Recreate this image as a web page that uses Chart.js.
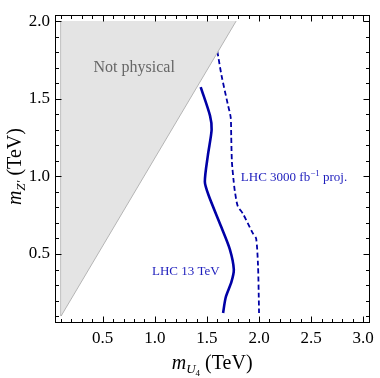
<!DOCTYPE html>
<html><head><meta charset="utf-8">
<script src="https://cdn.jsdelivr.net/npm/chart.js@4"></script>
<style>html,body{margin:0;padding:0;background:#fff}canvas{display:block}</style>
</head><body>
<canvas id="c" width="380" height="378"></canvas>
<script>
// LHC 13 TeV exclusion (solid)
const lhc13_x = [1.44, 1.53, 1.545, 1.51, 1.48, 1.515, 1.64, 1.72, 1.758, 1.735, 1.68, 1.655];
const lhc13_y = [1.575, 1.39, 1.30, 1.14, 0.965, 0.88, 0.67, 0.53, 0.40, 0.32, 0.22, 0.12];
// LHC 3000 fb^-1 projection (dashed)
const hl_x = [1.60, 1.64, 1.70, 1.728, 1.733, 1.74, 1.757, 1.768, 1.795, 1.845, 1.94, 1.972, 1.99, 1.997, 2.0];
const hl_y = [1.805, 1.65, 1.465, 1.38, 1.26, 1.09, 0.966, 0.904, 0.81, 0.76, 0.634, 0.60, 0.43, 0.24, 0.12];
// Not physical region boundary
const unphys_x = [0.1, 1.78];
const unphys_y = [0.1, 2.0];
const unphys_edge_x = [0.1, 0.1];
const unphys_edge_y = [0.1, 2.0];
// tick labels
const xTickLabels = ['0.5', '1.0', '1.5', '2.0', '2.5', '3.0'];
const yTickLabels = ['0.5', '1.0', '1.5', '2.0'];
// text labels
const labelTexts = ['Not physical', 'LHC 13 TeV', 'LHC 3000 fb', '\u22121', ' proj.'];

const pts = (xs, ys) => xs.map((v, i) => ({x: v, y: ys[i]}));
const SERIF = "'Liberation Serif', 'Times New Roman', serif";
const LINE_BLUE = '#0000a6';
const TEXT_BLUE = '#1c1cbc';

function drawRun(ctx, segs, x, y, align) {
  let w = 0;
  segs.forEach(s => { ctx.font = s.f; s.w = ctx.measureText(s.t).width; w += s.w; });
  let cx = align === 'center' ? x - w / 2 : x;
  segs.forEach(s => { ctx.font = s.f; ctx.fillText(s.t, cx, y + (s.dy || 0)); cx += s.w; });
}

const framePlugin = {
  id: 'frame',
  afterDatasetsDraw(chart) {
    const {ctx, chartArea: a, scales: {x, y}} = chart;
    ctx.save();
    ctx.strokeStyle = '#000';
    ctx.lineWidth = 1;
    const L = Math.round(a.left) + 0.5, R = Math.round(a.right) + 0.5;
    const T = Math.round(a.top) + 0.5, B = Math.round(a.bottom) + 0.5;
    ctx.strokeRect(L, T, R - L, B - T);
    ctx.beginPath();
    x.ticks.forEach(t => {
      const px = Math.round(x.getPixelForValue(t.value)) + 0.5;
      const len = t.label ? 6 : 3.5;
      ctx.moveTo(px, B); ctx.lineTo(px, B - len);
      ctx.moveTo(px, T); ctx.lineTo(px, T + len);
    });
    y.ticks.forEach(t => {
      const py = Math.round(y.getPixelForValue(t.value)) + 0.5;
      const len = t.label ? 6 : 3.5;
      ctx.moveTo(L, py); ctx.lineTo(L + len, py);
      ctx.moveTo(R, py); ctx.lineTo(R - len, py);
    });
    ctx.stroke();

    // in-plot labels
    ctx.textBaseline = 'alphabetic';
    ctx.fillStyle = '#666';
    ctx.font = '16px ' + SERIF;
    ctx.fillText(labelTexts[0], x.getPixelForValue(0.412), y.getPixelForValue(1.669));
    ctx.fillStyle = TEXT_BLUE;
    ctx.font = '13px ' + SERIF;
    ctx.fillText(labelTexts[1], x.getPixelForValue(0.973), y.getPixelForValue(0.367));
    drawRun(ctx, [
      {t: labelTexts[2], f: '13px ' + SERIF},
      {t: labelTexts[3], f: '9px ' + SERIF, dy: -5},
      {t: labelTexts[4], f: '13px ' + SERIF}
    ], x.getPixelForValue(1.825), y.getPixelForValue(0.971), 'left');

    // axis titles
    ctx.fillStyle = '#000';
    const cxm = (a.left + a.right) / 2;
    drawRun(ctx, [
      {t: 'm', f: 'italic 20px ' + SERIF},
      {t: 'U', f: 'italic 13px ' + SERIF, dy: 4},
      {t: '4', f: '9px ' + SERIF, dy: 7},
      {t: ' (TeV)', f: '20px ' + SERIF}
    ], cxm, 369, 'center');
    ctx.translate(21, (a.top + a.bottom) / 2 - 2);
    ctx.rotate(-Math.PI / 2);
    drawRun(ctx, [
      {t: 'm', f: 'italic 20px ' + SERIF},
      {t: 'Z\u2032', f: 'italic 13px ' + SERIF, dy: 4},
      {t: ' (TeV)', f: '20px ' + SERIF}
    ], 0, 0, 'center');
    ctx.restore();
  }
};

const tickCb = labels => v => {
  const s = Number(v).toFixed(1);
  return (labels.includes(s) && Math.abs(v * 2 - Math.round(v * 2)) < 1e-6) ? s : '';
};

new Chart(document.getElementById('c'), {
  type: 'scatter',
  data: {
    datasets: [
      {data: pts(unphys_x, unphys_y), showLine: true, fill: {target: {value: 2.0}},
       backgroundColor: '#e4e4e4', borderColor: '#b4b4b4', borderWidth: 1, pointRadius: 0, tension: 0},
      {data: pts(unphys_edge_x, unphys_edge_y), showLine: true, fill: false,
       borderColor: '#c4c4c4', borderWidth: 2, pointRadius: 0},
      {data: pts(lhc13_x, lhc13_y), showLine: true, fill: false,
       borderColor: LINE_BLUE, borderWidth: 2.6, pointRadius: 0, tension: 0.25},
      {data: pts(hl_x, hl_y), showLine: true, fill: false, borderDash: [5, 3],
       borderColor: LINE_BLUE, borderWidth: 1.8, pointRadius: 0, tension: 0.25}
    ]
  },
  options: {
    responsive: false,
    animation: false,
    layout: {padding: {left: 0, right: 7, top: 5, bottom: 0}},
    plugins: {legend: {display: false}, tooltip: {enabled: false}},
    scales: {
      x: {
        type: 'linear', min: 0.042, max: 3.058,
        grid: {display: false, drawTicks: false}, border: {display: false},
        ticks: {stepSize: 0.1, includeBounds: false, autoSkip: false, maxRotation: 0,
                padding: 6, color: '#000', font: {family: SERIF, size: 17},
                callback: tickCb(xTickLabels)},
        afterFit(s) { s.height = 56; }
      },
      y: {
        type: 'linear', min: 0.062, max: 2.038,
        grid: {display: false, drawTicks: false}, border: {display: false},
        ticks: {stepSize: 0.1, includeBounds: false, autoSkip: false,
                padding: 5, color: '#000', font: {family: SERIF, size: 17},
                callback: tickCb(yTickLabels)},
        afterFit(s) { s.width = 55; }
      }
    }
  },
  plugins: [framePlugin]
});
</script>
</body></html>
